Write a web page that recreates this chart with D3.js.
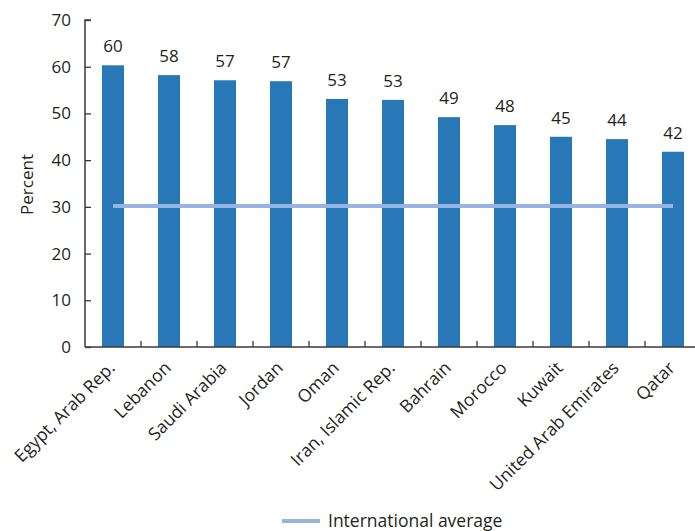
<!DOCTYPE html>
<html>
<head>
<meta charset="utf-8">
<script src="https://cdn.jsdelivr.net/npm/d3@7"></script>
<style>
  html, body { margin: 0; padding: 0; background: #fff; }
  svg text { font-family: "Open Sans", "Noto Sans", sans-serif; fill: #231f20; }
</style>
</head>
<body>
<svg id="chart" width="695" height="531"></svg>
<script>
// Share of respondents by country, with the international average
const countries = ["Egypt, Arab Rep.", "Lebanon", "Saudi Arabia", "Jordan", "Oman",
  "Iran, Islamic Rep.", "Bahrain", "Morocco", "Kuwait", "United Arab Emirates", "Qatar"];
const values = [60.3, 58.2, 57.1, 56.9, 53.1, 52.9, 49.2, 47.5, 45.0, 44.5, 41.8];
const valueLabels = ["60", "58", "57", "57", "53", "53", "49", "48", "45", "44", "42"];
const internationalAverage = 30.2;
const yTicks = [0, 10, 20, 30, 40, 50, 60, 70];
const yLabel = "Percent";
const legendLabel = "International average";

const svg = d3.select("#chart");
const plotLeft = 85, plotRight = 701, plotTop = 20, plotBottom = 347;

const x = d3.scaleBand().domain(countries).range([plotLeft, plotRight]).paddingInner(0.607).paddingOuter(0.3035);
const xb = d3.scaleBand().domain(countries).range([plotLeft, plotRight]);
const y = d3.scaleLinear().domain([0, 70]).range([plotBottom, plotTop]);

const axisColor = "#3a3a3a";

// bars
svg.append("g").selectAll("rect").data(countries).join("rect")
  .attr("x", d => x(d))
  .attr("width", x.bandwidth())
  .attr("y", (d, i) => y(values[i]))
  .attr("height", (d, i) => y(0) - y(values[i]))
  .attr("fill", "#2878b8");

// value labels
svg.append("g").selectAll("text").data(countries).join("text")
  .attr("x", d => x(d) + x.bandwidth() / 2)
  .attr("y", (d, i) => y(values[i]) - 13)
  .attr("text-anchor", "middle")
  .attr("font-size", 17)
  .text((d, i) => valueLabels[i]);

// international average line
const first = countries[0], last = countries[countries.length - 1];
svg.append("line")
  .attr("x1", x(first) + x.bandwidth() / 2)
  .attr("x2", x(last) + x.bandwidth() / 2)
  .attr("y1", y(internationalAverage))
  .attr("y2", y(internationalAverage))
  .attr("stroke", "#95b4e0")
  .attr("stroke-width", 4);

// y axis
const yAxis = svg.append("g").attr("transform", `translate(${plotLeft},0)`)
  .call(d3.axisRight(y).tickValues(yTicks).tickSize(6).tickFormat(""));
yAxis.select(".domain").attr("stroke", axisColor).attr("stroke-width", 1.5).attr("d", `M6,${plotTop}H0V${plotBottom}`);
yAxis.selectAll(".tick line").attr("stroke", axisColor).attr("stroke-width", 1.3);
svg.append("g").selectAll("text").data(yTicks).join("text")
  .attr("x", plotLeft - 14)
  .attr("y", d => y(d) + 6)
  .attr("text-anchor", "end")
  .attr("font-size", 17)
  .text(d => d);

svg.append("text")
  .attr("transform", `translate(33,${(plotTop + plotBottom) / 2 + 1}) rotate(-90)`)
  .attr("text-anchor", "middle")
  .attr("font-size", 17)
  .text(yLabel);

// x axis with ticks between categories
const xAxis = svg.append("g").attr("transform", `translate(0,${plotBottom})`);
xAxis.append("line").attr("x1", plotLeft).attr("x2", plotRight).attr("stroke", axisColor).attr("stroke-width", 1.5);
xAxis.selectAll("line.tick").data(countries.slice(1)).join("line")
  .attr("class", "tick")
  .attr("x1", d => xb(d)).attr("x2", d => xb(d))
  .attr("y1", 0).attr("y2", -6)
  .attr("stroke", axisColor).attr("stroke-width", 1.3);

// rotated category labels
svg.append("g").selectAll("text").data(countries).join("text")
  .attr("transform", d => `translate(${x(d) + x.bandwidth() / 2 + 3},${plotBottom + 22}) rotate(-45)`)
  .attr("text-anchor", "end")
  .attr("font-size", 17.5)
  .text(d => d);

// legend
const lg = svg.append("g").attr("transform", "translate(282,521)");
lg.append("line").attr("x1", 0).attr("x2", 38).attr("stroke", "#95b4e0").attr("stroke-width", 4);
lg.append("text").attr("x", 46).attr("y", 6).attr("font-size", 17.5).text(legendLabel);
</script>
</body>
</html>
